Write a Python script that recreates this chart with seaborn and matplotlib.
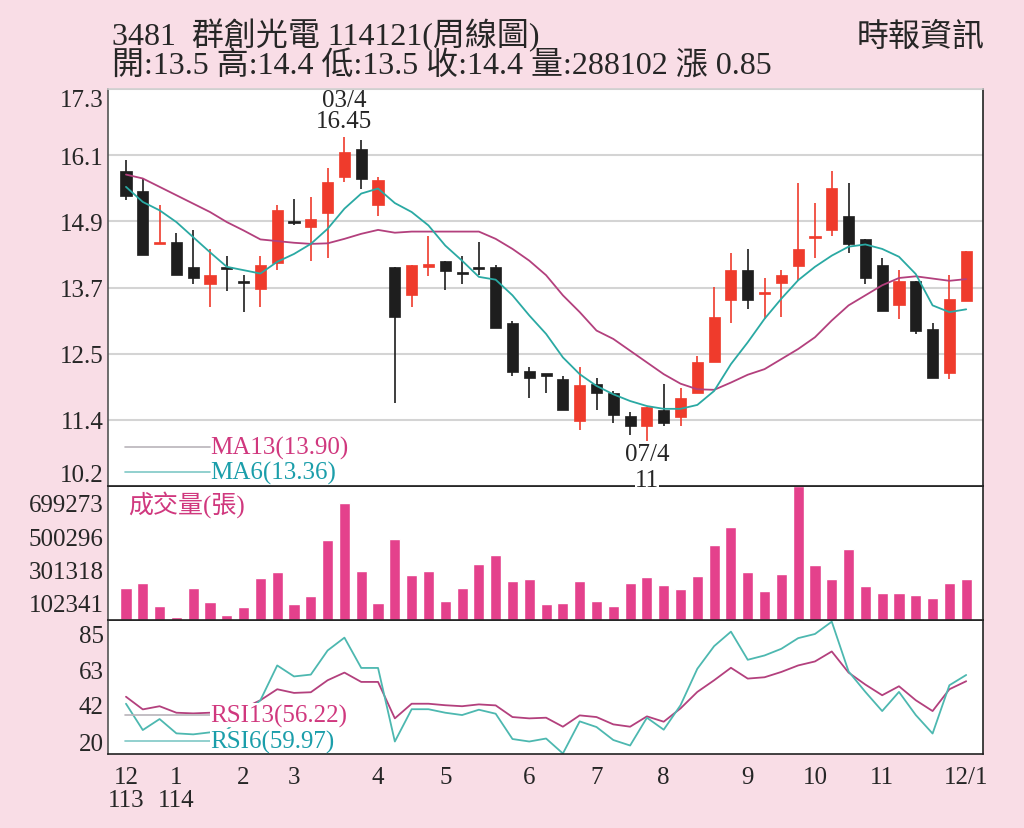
import numpy as np
import pandas as pd
import seaborn as sns
import matplotlib.pyplot as plt

# weekly candles, 51 weeks (113/12 .. 114/12/1)
opens = [15.83, 15.47, 14.53, 14.56, 14.12, 13.82, 14.10, 13.87, 13.73, 14.18,
         14.93, 14.83, 15.08, 15.73, 16.22, 15.23, 14.12, 13.62, 14.13, 14.22,
         14.02, 14.11, 14.12, 13.11, 12.26, 12.21, 12.12, 11.37, 12.02, 11.86,
         11.46, 11.27, 11.56, 11.43, 11.87, 12.42, 13.53, 14.07, 13.63, 13.83,
         14.13, 14.64, 14.78, 15.02, 14.61, 14.16, 13.43, 13.87, 13.01, 12.22,
         13.50]
highs = [16.03, 15.71, 15.23, 14.73, 14.77, 14.43, 14.32, 13.97, 14.32, 15.22,
         15.33, 15.37, 15.88, 16.45, 16.39, 15.73, 14.12, 14.16, 14.67, 14.22,
         14.32, 14.56, 14.16, 13.15, 12.32, 12.21, 12.17, 12.32, 12.13, 11.90,
         11.52, 11.61, 12.02, 11.95, 12.52, 13.76, 14.37, 14.43, 13.92, 14.07,
         15.62, 15.27, 15.84, 15.62, 14.61, 14.27, 14.07, 13.87, 13.11, 13.97,
         14.40]
lows = [15.31, 14.34, 14.53, 13.98, 13.82, 13.41, 13.68, 13.32, 13.41, 14.07,
        14.86, 14.22, 14.27, 15.63, 15.52, 15.02, 11.68, 13.41, 13.95, 13.71,
        13.82, 13.97, 13.03, 12.17, 11.77, 11.86, 11.56, 11.20, 11.56, 11.32,
        11.11, 11.00, 11.28, 11.28, 11.87, 12.42, 13.12, 13.37, 13.18, 13.22,
        13.88, 14.27, 14.67, 14.37, 13.82, 13.33, 13.18, 12.91, 12.13, 12.11,
        13.50]
closes = [15.38, 14.34, 14.56, 13.98, 13.92, 13.97, 14.10, 13.83, 14.16, 15.13,
          14.92, 14.97, 15.63, 16.18, 15.69, 15.67, 13.22, 14.16, 14.16, 14.04,
          14.00, 14.09, 13.03, 12.23, 12.13, 12.18, 11.56, 12.01, 11.87, 11.47,
          11.28, 11.61, 11.32, 11.77, 12.42, 13.22, 14.07, 13.53, 13.67, 13.97,
          14.43, 14.67, 15.53, 14.53, 13.92, 13.33, 13.87, 12.98, 12.13, 13.55,
          14.40]
volumes = [190000, 222000, 83000, 20000, 190000, 109000, 28000, 79000, 252000, 286000,
           97000, 143000, 478000, 698000, 292000, 99000, 480000, 270000, 293000, 111000,
           190000, 331000, 389000, 234000, 244000, 95000, 99000, 232000, 115000, 85000,
           220000, 258000, 206000, 184000, 260000, 448000, 553000, 286000, 173000, 276000,
           799000, 325000, 246000, 426000, 202000, 159000, 163000, 149000, 129000, 220000,
           246000]
ma13 = [15.77, 15.70, 15.55, 15.40, 15.25, 15.10, 14.92, 14.77, 14.61, 14.58,
        14.55, 14.53, 14.54, 14.62, 14.71, 14.78, 14.73, 14.75, 14.75, 14.75,
        14.75, 14.75, 14.62, 14.44, 14.23, 13.97, 13.61, 13.31, 12.98, 12.83,
        12.62, 12.41, 12.20, 12.03, 11.93, 11.92, 12.05, 12.19, 12.29, 12.47,
        12.65, 12.86, 13.16, 13.43, 13.61, 13.79, 13.92, 13.95, 13.91, 13.87,
        13.90]
ma6 = [15.55, 15.28, 15.13, 14.92, 14.65, 14.38, 14.12, 14.06, 14.00, 14.21,
       14.35, 14.53, 14.80, 15.16, 15.43, 15.52, 15.26, 15.10, 14.86, 14.50,
       14.23, 13.94, 13.89, 13.61, 13.25, 12.92, 12.50, 12.20, 11.99, 11.84,
       11.72, 11.63, 11.58, 11.58, 11.65, 11.90, 12.38, 12.77, 13.19, 13.55,
       13.88, 14.12, 14.32, 14.48, 14.52, 14.44, 14.30, 13.99, 13.43, 13.31,
       13.36]
rsi13 = [46.9, 39.3, 41.2, 37.3, 36.9, 37.3, 37.5, 40.0, 44.8, 51.4,
         49.2, 49.6, 56.8, 61.4, 55.8, 55.8, 33.9, 42.7, 42.7, 41.8,
         41.2, 42.3, 41.7, 34.7, 33.9, 34.3, 28.9, 35.7, 34.7, 30.3,
         28.9, 35.1, 31.9, 39.9, 49.8, 56.8, 64.3, 57.8, 58.6, 61.8,
         65.7, 68.1, 74.1, 61.4, 54.2, 47.8, 53.2, 44.8, 38.3, 51.4,
         56.22]
rsi6 = [42.7, 26.9, 33.5, 24.9, 24.3, 25.5, 27.0, 36.0, 44.8, 65.7,
        59.1, 60.2, 74.7, 82.4, 64.2, 64.2, 20.0, 39.4, 39.4, 37.3,
        35.9, 39.1, 36.7, 21.5, 20.0, 21.8, 12.8, 32.1, 28.7, 20.9,
        17.6, 34.3, 27.1, 41.8, 63.7, 77.3, 86.0, 69.1, 71.7, 75.7,
        82.1, 84.6, 92.0, 62.1, 49.8, 38.3, 49.8, 35.9, 24.8, 53.8,
        59.97]

month_pos = [0, 3, 7, 10, 15, 19, 24, 28, 32, 37, 41, 45, 50]
month_labels = ['12\n113', '1\n114', '2', '3', '4', '5', '6', '7', '8', '9',
                '10', '11', '12/1']
price_labels = ['10.2', '11.4', '12.5', '13.7', '14.9', '16.1', '17.3']
vol_ticks = [102341, 301318, 500296, 699273]
rsi_ticks = [20, 42, 63, 85]

BG = '#F9DDE6'
RED = '#EF3B2C'
BLACK = '#1E1E1E'
PINK = '#E4418C'
MAG = '#B3407D'
TEAL = '#2AA9A3'
MAG_TXT = '#D0387E'
TEAL_TXT = '#1B9EAA'

df = pd.DataFrame({'week': np.arange(len(opens)), 'open': opens, 'high': highs,
                   'low': lows, 'close': closes, 'volume': volumes,
                   'ma13': ma13, 'ma6': ma6, 'rsi13': rsi13, 'rsi6': rsi6})

sns.set_style('white')
plt.rcParams['font.family'] = ['Liberation Serif', 'Noto Sans CJK TC']
plt.rcParams['font.size'] = 18

fig = plt.figure(figsize=(10.24, 8.29), dpi=100)
fig.patch.set_facecolor(BG)
L, W = 108 / 1024, 875 / 1024
ax_p = fig.add_axes([L, 1 - 487 / 829, W, 397 / 829])
ax_v = fig.add_axes([L, 1 - 621 / 829, W, 134 / 829])
ax_r = fig.add_axes([L, 1 - 755 / 829, W, 134 / 829])
ax_p.set_zorder(3)
ax_v.set_zorder(2)
ax_r.set_zorder(1)
xlim = (-1.07, 51.0)

# ---- price panel
up = df['close'] > df['open']
cols = np.where(up, RED, BLACK)
ax_p.vlines(df['week'], df['low'], df['high'], colors=cols, lw=1.2, zorder=3)
body = (df['close'] - df['open']).abs()
body_h = np.maximum(body, 0.04)
body_bot = np.minimum(df['open'], df['close']) - (body_h - body) / 2
ax_p.bar(df['week'], body_h, bottom=body_bot, width=0.66, color=cols,
         edgecolor=cols, lw=0.5, zorder=4)
sns.lineplot(data=df, x='week', y='ma13', color=MAG, lw=1.3, ax=ax_p, zorder=5)
sns.lineplot(data=df, x='week', y='ma6', color=TEAL, lw=1.3, ax=ax_p, zorder=5)

ax_p.set_xlim(*xlim)
ax_p.set_ylim(10.2, 17.3)
ax_p.set_yticks(np.linspace(10.2, 17.3, 7))
ax_p.set_yticklabels(price_labels)
ax_p.get_yticklabels()[0].set_va('bottom')
ax_p.get_yticklabels()[-1].set_va('top')
ax_p.yaxis.grid(True, color='#D4D4D4', lw=1.5)
ax_p.set_xticks([])

ax_p.annotate('03/4\n16.45', xy=(13, df['high'][13]), xytext=(0, 3),
              textcoords='offset points', ha='center', va='bottom',
              linespacing=0.95, zorder=6)
ax_p.annotate('07/4', xy=(31, df['low'][31]), xytext=(0, -1),
              textcoords='offset points', ha='center', va='top', zorder=6)
ax_p.annotate('11', xy=(31, 10.2), xytext=(0, 4), textcoords='offset points',
              ha='center', va='center', zorder=6, annotation_clip=False,
              bbox=dict(fc='white', ec='none', pad=0.2))

ax_p.plot([0.019, 0.117], [0.098, 0.098], transform=ax_p.transAxes,
          color='#B9B4BA', lw=1.2)
ax_p.plot([0.019, 0.117], [0.035, 0.035], transform=ax_p.transAxes,
          color='#7FC8C6', lw=1.2)
ax_p.text(0.117, 0.098, 'MA13(13.90)', transform=ax_p.transAxes, va='center',
          color=MAG_TXT)
ax_p.text(0.117, 0.035, 'MA6(13.36)', transform=ax_p.transAxes, va='center',
          color=TEAL_TXT)

# ---- volume panel
sns.barplot(data=df, x='week', y='volume', native_scale=True, color=PINK,
            saturation=1, width=0.66, errorbar=None, ax=ax_v)
ax_v.set_xlim(*xlim)
ax_v.set_ylim(0, 798762)
ax_v.set_yticks(vol_ticks)
ax_v.set_yticklabels([str(v) for v in vol_ticks])
ax_v.set_xticks([])
ax_v.text(0.023, 0.866, '成交量(張)', transform=ax_v.transAxes, va='center',
          color=MAG_TXT)

# ---- RSI panel
sns.lineplot(data=df, x='week', y='rsi13', color=MAG, lw=1.3, ax=ax_r, zorder=2)
sns.lineplot(data=df, x='week', y='rsi6', color='#4DB8B0', lw=1.3, ax=ax_r, zorder=2)
ax_r.set_xlim(*xlim)
ax_r.set_ylim(12.5, 93)
ax_r.set_yticks(rsi_ticks)
ax_r.set_yticklabels([str(v) for v in rsi_ticks])
ax_r.plot([0.019, 0.117], [0.291, 0.291], transform=ax_r.transAxes,
          color='#B9B4BA', lw=1.2, zorder=3)
ax_r.plot([0.019, 0.117], [0.097, 0.097], transform=ax_r.transAxes,
          color='#7FC8C6', lw=1.2, zorder=3)
ax_r.text(0.117, 0.291, 'RSI13(56.22)', transform=ax_r.transAxes, va='center',
          color=MAG_TXT, zorder=6, bbox=dict(fc='white', ec='none', pad=0.5))
ax_r.text(0.117, 0.097, 'RSI6(59.97)', transform=ax_r.transAxes, va='center',
          color=TEAL_TXT, zorder=6, bbox=dict(fc='white', ec='none', pad=0.5))
ax_r.set_xticks(month_pos)
ax_r.set_xticklabels(month_labels, linespacing=1.05)
ax_r.set_xticks(df['week'], minor=True)
ax_r.tick_params(axis='x', which='major', direction='out', length=5, width=1,
                 color='#333333', pad=4, labelsize=18)
ax_r.tick_params(axis='x', which='minor', direction='out', length=3, width=0.8,
                 color='#333333')

for ax in (ax_p, ax_v, ax_r):
    ax.set_facecolor('white')
    ax.set_xlabel('')
    ax.set_ylabel('')
    ax.tick_params(axis='y', length=0, pad=3, labelsize=18)
    ax.spines['left'].set_color('#555555')
    ax.spines['right'].set_color('#222222')
    ax.spines['bottom'].set_color('#222222')
    ax.spines['top'].set_color('#222222')
    for s in ax.spines.values():
        s.set_linewidth(1.2)
ax_p.spines['top'].set_color('#D0D0D0')

# ---- header
fig.text(112 / 1024, 1 - 35 / 829, '3481  群創光電 114121(周線圖)', fontsize=23,
         va='center', ha='left')
fig.text(112 / 1024, 1 - 67 / 829, '開:13.5 高:14.4 低:13.5 收:14.4 量:288102 漲 0.85',
         fontsize=23, va='center', ha='left')
fig.text(985 / 1024, 1 - 38 / 829, '時報資訊', fontsize=23, va='center', ha='right')

fig.savefig('out.png', dpi=100, facecolor=BG)
